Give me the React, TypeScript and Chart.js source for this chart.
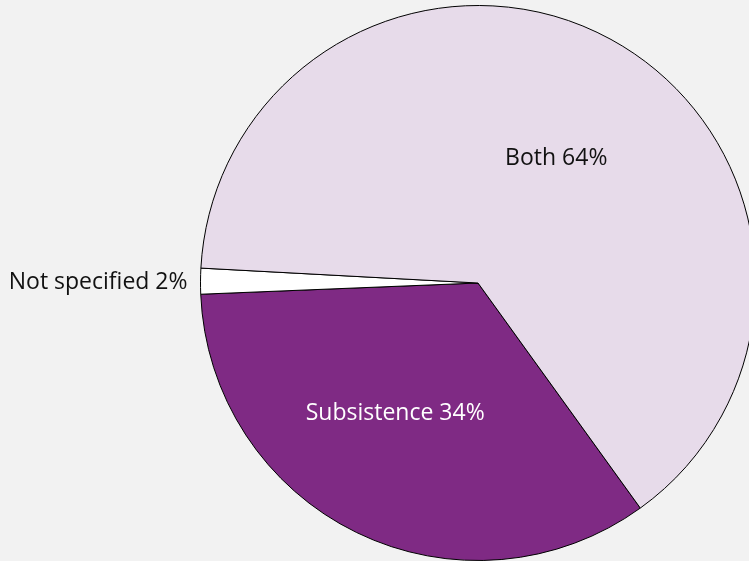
import React, { useEffect, useRef } from "react";
import { Chart, registerables } from "chart.js";

Chart.register(...registerables);

const categories = ["Subsistence", "Not specified", "Both"];
const values = [34.3, 1.5, 64.2];
const percentLabels = ["34%", "2%", "64%"];
const colors = ["#7f2a84", "#ffffff", "#e7dbea"];
const textColors = ["#ffffff", "#111111", "#111111"];

// label placement: inside slices (fraction along arc, fraction of radius) or outside
const labelPlacement = [
  { inside: true, along: 0.555, dist: 0.552 },
  { inside: false, along: 0.5, dist: 13 },
  { inside: true, along: 0.514, dist: 0.534 },
];

const labelPlugin = {
  id: "sliceLabels",
  afterDatasetsDraw(chart: any) {
    const ctx = chart.ctx;
    const meta = chart.getDatasetMeta(0);
    ctx.save();
    ctx.font = "400 23px 'Open Sans', sans-serif";
    const capHalf = 8.2;
    meta.data.forEach((arc: any, i: number) => {
      const { x, y, startAngle, endAngle, outerRadius } = arc.getProps(
        ["x", "y", "startAngle", "endAngle", "outerRadius"],
        true
      );
      const p = labelPlacement[i];
      const a = startAngle + (endAngle - startAngle) * p.along;
      const text = categories[i] + " " + percentLabels[i];
      ctx.fillStyle = textColors[i];
      ctx.textBaseline = "alphabetic";
      const d = p.inside ? outerRadius * p.dist : outerRadius + p.dist;
      ctx.textAlign = p.inside ? "center" : "right";
      ctx.fillText(text, x + Math.cos(a) * d, y + Math.sin(a) * d + capHalf);
    });
    ctx.restore();
  },
};

export default function App() {
  const ref = useRef<HTMLCanvasElement>(null);
  useEffect(() => {
    if (!ref.current) return;
    const chart = new Chart(ref.current, {
      type: "pie",
      data: {
        labels: categories,
        datasets: [
          {
            data: values,
            backgroundColor: colors,
            borderColor: "#000000",
            borderWidth: 1,
            hoverOffset: 0,
          },
        ],
      },
      options: {
        responsive: false,
        animation: false,
        rotation: 144.2,
        layout: { padding: { left: 200, right: 4, top: 5, bottom: 0 } },
        plugins: {
          legend: { display: false },
          tooltip: { enabled: false },
        },
        events: [],
      },
      plugins: [labelPlugin],
    });
    return () => chart.destroy();
  }, []);
  return (
    <div
      style={{
        position: "fixed",
        left: 0,
        top: 0,
        width: 749,
        height: 561,
        overflow: "hidden",
        background: "#f2f2f2",
      }}
    >
      <canvas ref={ref} width={760} height={561} style={{ display: "block" }} />
    </div>
  );
}
